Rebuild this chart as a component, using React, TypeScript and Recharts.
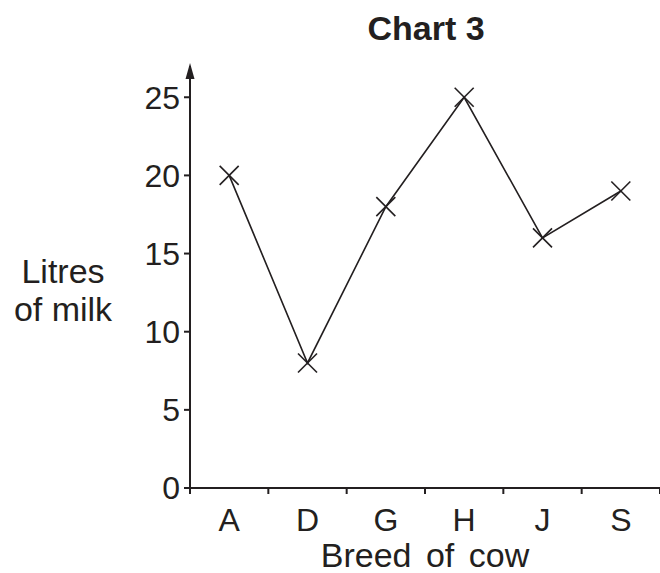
import React from 'react'
import { LineChart, Line, XAxis, YAxis } from 'recharts'

const breeds = ['A', 'D', 'G', 'H', 'J', 'S']
const litres = [20, 8, 18, 25, 16, 19]
const yTicks = [0, 5, 10, 15, 20, 25]

const W = 660
const H = 573
const LEFT = 190
const TOP = 66
const AXIS_H = 85
const HALF = (W - LEFT) / breeds.length / 2
const INK = '#231f20'
const FONT = '"Liberation Sans", Arial, Helvetica, sans-serif'

const data = breeds.map((breed, i) => ({ breed, litres: litres[i] }))

// x-shaped marker like the hand-drawn crosses
function Cross(props: any) {
  const { cx, cy } = props
  if (cx == null || cy == null) return null
  const r = 9.5
  return (
    <g stroke={INK} strokeWidth={1.6}>
      <line x1={cx - r} y1={cy - r} x2={cx + r} y2={cy + r} />
      <line x1={cx - r} y1={cy + r} x2={cx + r} y2={cy - r} />
    </g>
  )
}

// category label, with tick marks on the band edges instead of the centre
function BreedTick(props: any) {
  const { x, y, payload, index } = props
  return (
    <g>
      <line x1={x - HALF} y1={y} x2={x - HALF} y2={y + 6} stroke={INK} strokeWidth={2} />
      {index === breeds.length - 1 && (
        <line x1={x + HALF} y1={y} x2={x + HALF} y2={y + 6} stroke={INK} strokeWidth={2} />
      )}
      <text x={x} y={y + 43} textAnchor="middle" fontSize={32} fill={INK} fontFamily={FONT}>
        {payload.value}
      </text>
    </g>
  )
}

export default function App() {
  return (
    <div style={{ position: 'absolute', left: 0, top: 0, width: W, height: H, background: '#fff' }}>
      <LineChart width={W} height={H} data={data} margin={{ top: TOP, right: 0, bottom: 0, left: 0 }}>
        <XAxis
          dataKey="breed"
          height={AXIS_H}
          padding={{ left: HALF, right: HALF }}
          tickSize={0}
          tickMargin={0}
          tickLine={false}
          interval={0}
          axisLine={{ stroke: INK, strokeWidth: 2 }}
          tick={<BreedTick />}
        />
        <YAxis
          width={LEFT}
          domain={[0, 27]}
          ticks={yTicks}
          interval={0}
          tickSize={6}
          tickMargin={4}
          axisLine={{ stroke: INK, strokeWidth: 2 }}
          tickLine={{ stroke: INK, strokeWidth: 2 }}
          tick={{ fontSize: 32, fill: INK, fontFamily: FONT }}
        />
        <Line
          type="linear"
          dataKey="litres"
          stroke={INK}
          strokeWidth={1.6}
          dot={<Cross />}
          activeDot={false}
          isAnimationActive={false}
        />
      </LineChart>
      <svg
        width={W}
        height={H}
        style={{ position: 'absolute', left: 0, top: 0, pointerEvents: 'none' }}
        fontFamily={FONT}
        fill={INK}
      >
        <text x={426} y={40} textAnchor="middle" fontSize={34} fontWeight="bold">
          Chart 3
        </text>
        <polygon points={`${LEFT},${TOP - 3} ${LEFT - 4.5},${TOP + 13} ${LEFT + 4.5},${TOP + 13}`} />
        <text x={63} y={283} textAnchor="middle" fontSize={34}>
          Litres
        </text>
        <text x={63} y={321} textAnchor="middle" fontSize={34}>
          of milk
        </text>
        <text x={425} y={567} textAnchor="middle" fontSize={34} style={{ wordSpacing: 5 }}>
          Breed of cow
        </text>
      </svg>
    </div>
  )
}
